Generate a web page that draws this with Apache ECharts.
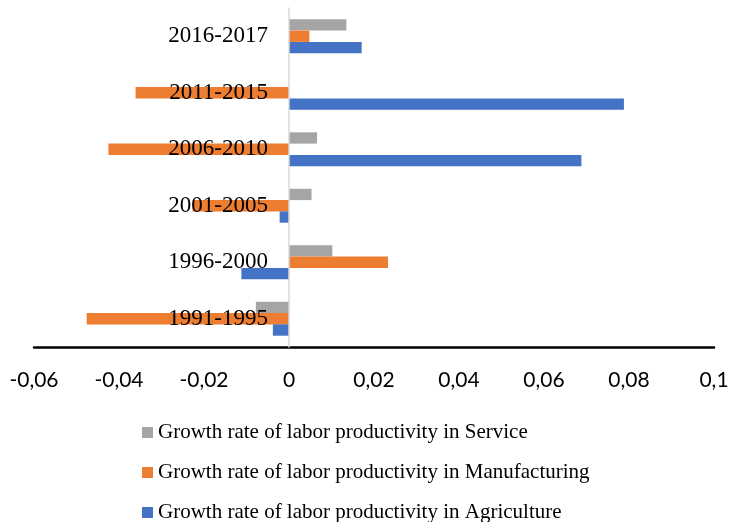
<!DOCTYPE html>
<html>
<head>
<meta charset="utf-8">
<script src="https://cdn.jsdelivr.net/npm/echarts@6/dist/echarts.min.js"></script>
<style>html,body{margin:0;padding:0;background:#fff;}#c{width:732px;height:522px;}</style>
</head>
<body>
<div id="c"></div>
<script>
// Categories, bottom to top
var categories = ['1991-1995', '1996-2000', '2001-2005', '2006-2010', '2011-2015', '2016-2017'];
var agriculture = [-0.0038, -0.0112, -0.0022, 0.0688, 0.0788, 0.0171];
var manufacturing = [-0.0476, 0.0233, -0.0227, -0.0425, -0.0361, 0.0048];
var service = [-0.0078, 0.0102, 0.0053, 0.0066, 0, 0.0135];
var seriesNames = [
  'Growth rate of labor productivity in Service',
  'Growth rate of labor productivity in Manufacturing',
  'Growth rate of labor productivity in Agriculture'
];
var xMin = -0.06, xMax = 0.1;
var gridLeft = 34, gridRight = 18;
var plotWidth = 732 - gridLeft - gridRight;
// place the category axis on x = 0
var yAxisOffset = -plotWidth * (0 - xMin) / (xMax - xMin);

var chart = echarts.init(document.getElementById('c'), null, {renderer: 'canvas'});
chart.setOption({
  animation: false,
  backgroundColor: '#ffffff',
  grid: {left: gridLeft, right: gridRight, top: 8, bottom: 175, containLabel: false, outerBoundsMode: 'none'},
  legend: {
    data: seriesNames,
    orient: 'vertical',
    left: 142,
    top: 422,
    height: 140,
    padding: 0,
    itemWidth: 11,
    itemHeight: 11,
    itemGap: 19,
    icon: 'rect',
    textStyle: {fontFamily: 'Liberation Serif', fontSize: 21, color: '#000'}
  },
  xAxis: {
    type: 'value',
    min: xMin,
    max: xMax,
    interval: 0.02,
    splitLine: {show: false},
    axisTick: {show: false},
    axisLine: {show: true, onZero: false, lineStyle: {color: '#000', width: 2.5}},
    axisLabel: {
      margin: 23,
      fontFamily: 'Lato',
      fontSize: 21,
      color: '#000',
      formatter: function (v) { return String(parseFloat(v.toFixed(2))).replace('.', ','); }
    }
  },
  yAxis: {
    type: 'category',
    data: categories,
    z: 10,
    offset: yAxisOffset,
    axisTick: {show: false},
    axisLine: {show: true, onZero: false, lineStyle: {color: '#D9D9D9', width: 1.5}},
    axisLabel: {margin: 21, fontFamily: 'Liberation Serif', fontSize: 23, color: '#000'}
  },
  series: [
    {name: seriesNames[0], type: 'bar', data: service, itemStyle: {color: '#A5A5A5'}, barGap: '0%', barCategoryGap: '40%'},
    {name: seriesNames[1], type: 'bar', data: manufacturing, itemStyle: {color: '#ED7D31'}, barGap: '0%', barCategoryGap: '40%'},
    {name: seriesNames[2], type: 'bar', data: agriculture, itemStyle: {color: '#4472C4'}, barGap: '0%', barCategoryGap: '40%'}
  ]
});
</script>
</body>
</html>
